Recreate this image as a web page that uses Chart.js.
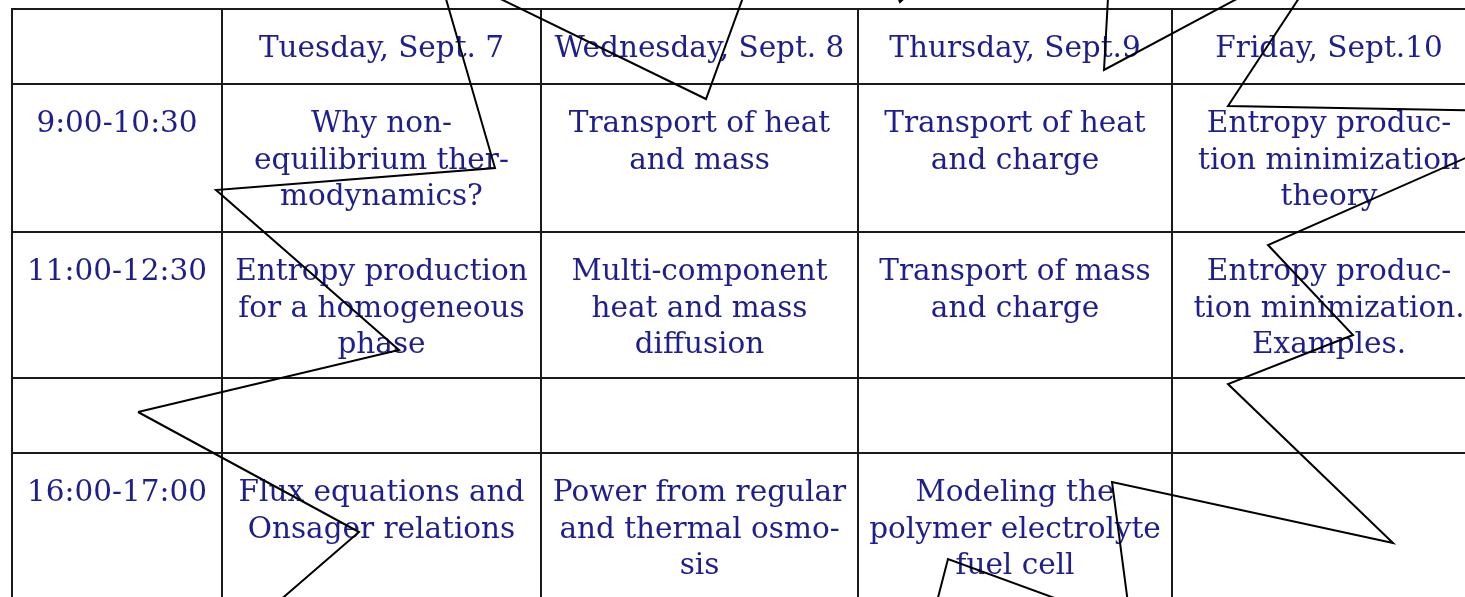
<!DOCTYPE html>
<html>
<head>
<meta charset="utf-8">
<script src="https://cdn.jsdelivr.net/npm/chart.js@4/dist/chart.umd.min.js"></script>
<style>
  html, body { margin: 0; padding: 0; background: #fff; }
  #wrap { width: 1465px; height: 597px; position: relative; }
</style>
</head>
<body>
<div id="wrap"><canvas id="chart"></canvas></div>
<script>
// table grid (column / row boundaries, in picture units)
const colEdges = [12, 222, 541, 858, 1172, 1486];
const rowEdges = [9, 84, 232, 378, 453, 620];

const days = ["Tuesday, Sept. 7", "Wednesday, Sept. 8", "Thursday, Sept.9", "Friday, Sept.10"];
const slots = ["9:00-10:30", "11:00-12:30", "", "16:00-17:00"];

const slot1 = [
  ["Why non-", "equilibrium ther-", "modynamics?"],
  ["Transport of heat", "and mass"],
  ["Transport of heat", "and charge"],
  ["Entropy produc-", "tion minimization", "theory"]
];
const slot2 = [
  ["Entropy production", "for a homogeneous", "phase"],
  ["Multi-component", "heat and mass", "diffusion"],
  ["Transport of mass", "and charge"],
  ["Entropy produc-", "tion minimization.", "Examples."]
];
const slot3 = [[], [], [], []];
const slot4 = [
  ["Flux equations and", "Onsager relations"],
  ["Power from regular", "and thermal osmo-", "sis"],
  ["Modeling the", "polymer electrolyte", "fuel cell"],
  []
];

// the jagged outline drawn over the table
const burstX = [138, 399, 216, 495, 437, 706, 815, 900, 1119, 1104, 1332, 1228, 1570, 1268, 1353, 1228, 1393, 1112, 1131, 948, 927, 234, 359, 138];
const burstY = [412, 350, 190, 168, -32, 99, -200, 2, -200, 70, -52, 106, 112, 245, 335, 384, 543, 482, 626, 559, 640, 640, 532, 412];

const textColor = "#1e1e8e";
const fontSize = 29.5;

const tablePlugin = {
  id: "tableText",
  beforeDatasetsDraw(chart) {
    const ctx = chart.ctx;
    const xs = chart.scales.x, ys = chart.scales.y;
    ctx.save();
    // grid lines only inside the table: wipe what sticks out left / above
    const left = xs.getPixelForValue(colEdges[0]) - 1;
    const top0 = ys.getPixelForValue(rowEdges[0]) - 1;
    ctx.fillStyle = "#fff";
    ctx.fillRect(0, 0, left, chart.height);
    ctx.fillRect(0, 0, chart.width, top0);

    ctx.fillStyle = textColor;
    ctx.font = fontSize + "px 'DejaVu Serif'";
    ctx.textAlign = "center";
    ctx.textBaseline = "alphabetic";

    const cell = (col, row, lines) => {
      const cx = (xs.getPixelForValue(colEdges[col]) + xs.getPixelForValue(colEdges[col + 1])) / 2;
      const top = ys.getPixelForValue(rowEdges[row]);
      lines.forEach((t, i) => ctx.fillText(t, cx, top + 48 + i * 36.7));
    };

    days.forEach((d, i) => cell(i + 1, 0, [d]));
    slots.forEach((s, r) => cell(0, r + 1, s ? [s] : []));
    [slot1, slot2, slot3, slot4].forEach((row, r) => {
      row.forEach((lines, c) => cell(c + 1, r + 1, lines));
    });
    ctx.restore();
  }
};

const gridOpts = { color: "#1a1a1a", lineWidth: 2, drawTicks: false, tickLength: 0 };

new Chart(document.getElementById("chart"), {
  type: "scatter",
  data: {
    datasets: [{
      data: burstX.map((x, i) => ({ x: x, y: burstY[i] })),
      showLine: true,
      borderColor: "#000",
      borderWidth: 2,
      pointRadius: 0,
      tension: 0,
      fill: false
    }]
  },
  options: {
    responsive: true,
    maintainAspectRatio: false,
    animation: false,
    layout: { padding: 0 },
    plugins: { legend: { display: false }, tooltip: { enabled: false } },
    scales: {
      x: {
        type: "linear", min: 0, max: 1465,
        afterBuildTicks: (axis) => { axis.ticks = colEdges.map(v => ({ value: v })); },
        ticks: { display: false },
        grid: gridOpts,
        border: { display: false }
      },
      y: {
        type: "linear", min: 0, max: 597, reverse: true,
        afterBuildTicks: (axis) => { axis.ticks = rowEdges.map(v => ({ value: v })); },
        ticks: { display: false },
        grid: gridOpts,
        border: { display: false }
      }
    }
  },
  plugins: [tablePlugin]
});
</script>
</body>
</html>
